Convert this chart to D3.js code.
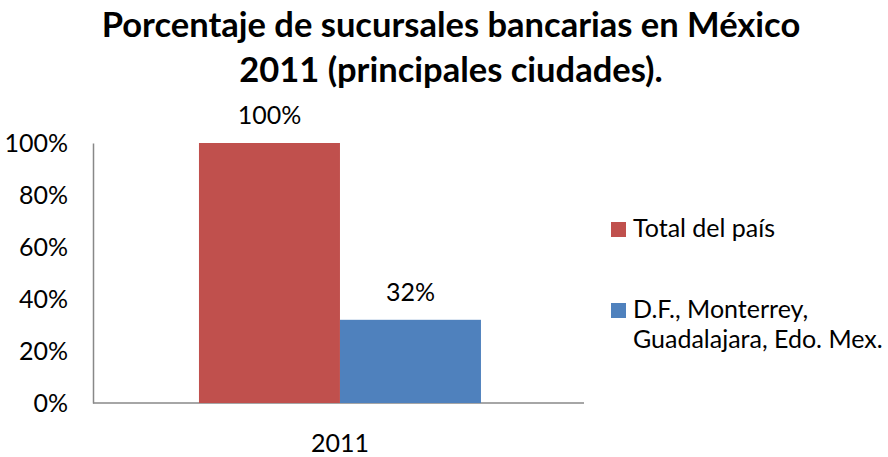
<!DOCTYPE html>
<html><head><meta charset="utf-8">
<script src="https://cdn.jsdelivr.net/npm/d3@7"></script>
<style>body{margin:0;background:#fff}svg{display:block}text{font-family:Lato,"Open Sans",sans-serif;fill:#000}</style>
</head><body>
<svg id="c" width="888" height="457"></svg>
<script>
const categories = ["2011"];
const seriesNames = ["Total del país", "D.F., Monterrey, Guadalajara, Edo. Mex."];
const seriesValues = [100, 32];
const seriesColors = ["#C0504D", "#4F81BD"];
const yTicks = [0, 20, 40, 60, 80, 100];
const titleLines = ["Porcentaje de sucursales bancarias en México", "2011 (principales ciudades)."];
const legendLines = [["Total del país"], ["D.F., Monterrey,", "Guadalajara, Edo. Mex."]];

const FS = "25px";
const svg = d3.select("#c");
const plot = {left: 93, right: 584, top: 143, bottom: 403};
const y = d3.scaleLinear().domain([0, 100]).range([plot.bottom, plot.top]);
const x0 = d3.scaleBand().domain(categories).range([plot.left, plot.right]).paddingInner(0).paddingOuter(0.3706).align(0.507);
const x1 = d3.scaleBand().domain(seriesNames).range([0, x0.bandwidth()]);

// title
svg.append("g").selectAll("text").data(titleLines).join("text")
  .attr("x", 451).attr("y", (d,i)=>37+i*45).attr("text-anchor","middle")
  .style("font-size","34.5px").style("font-weight","bold").text(d=>d);

// y axis
const yAxis = d3.axisLeft(y).tickValues(yTicks).tickSize(0).tickPadding(25).tickFormat(d=>d+"%");
const gy = svg.append("g").attr("transform",`translate(${plot.left},0)`).call(yAxis);
gy.select(".domain").attr("stroke","#888").attr("stroke-width",1.5);
gy.selectAll("text").style("font-size",FS).style("font-family","Lato, sans-serif").attr("fill","#000");

// x axis
const xAxis = d3.axisBottom(x0).tickSize(0).tickPadding(31);
const gx = svg.append("g").attr("transform",`translate(0,${plot.bottom})`).call(xAxis);
gx.select(".domain").attr("d",`M${plot.left},0H${plot.right}`).attr("stroke","#888").attr("stroke-width",1.5);
gx.selectAll("text").style("font-size",FS).style("font-family","Lato, sans-serif").attr("fill","#000");

// bars
const bars = seriesNames.map((s,i)=>({series:s, cat:categories[0], value:seriesValues[i], color:seriesColors[i]}));
const gb = svg.append("g");
gb.selectAll("rect").data(bars).join("rect")
  .attr("x", d=>x0(d.cat)+x1(d.series)).attr("width", x1.bandwidth())
  .attr("y", d=>y(d.value)).attr("height", d=>plot.bottom - y(d.value))
  .attr("fill", d=>d.color);
gb.selectAll("text").data(bars).join("text")
  .attr("x", d=>x0(d.cat)+x1(d.series)+x1.bandwidth()/2).attr("y", d=>y(d.value)-19)
  .attr("text-anchor","middle").style("font-size",FS).text(d=>d.value+"%");

// legend
const lg = svg.append("g");
const legY = [229.5, 310.5];
seriesNames.forEach((s,i)=>{
  lg.append("rect").attr("x",611).attr("y",legY[i]-7.5).attr("width",15).attr("height",15).attr("fill",seriesColors[i]);
  legendLines[i].forEach((ln,j)=>{
    lg.append("text").attr("x",633).attr("y",legY[i]+7+j*30).style("font-size",FS).text(ln);
  });
});
</script>
</body></html>
